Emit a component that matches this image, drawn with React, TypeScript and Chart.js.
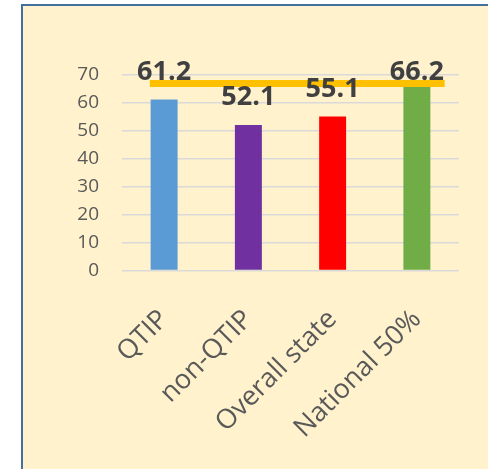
import { useEffect, useRef } from "react";
import { Chart, registerables } from "chart.js";

Chart.register(...registerables);

// Rates per group
const categories = ["QTIP", "non-QTIP", "Overall state", "National 50%"];
const rates = [61.2, 52.1, 55.1, 66.2];
const barColors = ["#5B9BD5", "#7030A0", "#FF0000", "#70AD47"];

// Horizontal benchmark bar drawn across the groups (x in category-index units)
const benchmarkLevel = 67;
const benchmarkFrom = -0.17;
const benchmarkTo = 3.33;

// Value axis
const yMin = 0;
const yMax = 70;
const yStep = 10;

const FONT = "'Open Sans', 'DejaVu Sans', sans-serif";

const valueLabels = {
  id: "valueLabels",
  afterDatasetsDraw(chart: any) {
    const meta = chart.getDatasetMeta(1);
    const ctx = chart.ctx;
    const top = chart.chartArea.top;
    ctx.save();
    ctx.font = `bold 27px ${FONT}`;
    ctx.fillStyle = "#404040";
    ctx.textAlign = "center";
    ctx.textBaseline = "alphabetic";
    meta.data.forEach((bar: any, i: number) => {
      const y = Math.max(bar.y - 20, top + 5);
      ctx.fillText(rates[i].toFixed(1), bar.x, y);
    });
    ctx.restore();
  },
};

export default function App() {
  const canvasRef = useRef<HTMLCanvasElement | null>(null);

  useEffect(() => {
    const canvas = canvasRef.current;
    if (!canvas) return;
    const chart = new Chart(canvas, {
      type: "bar",
      data: {
        labels: categories,
        datasets: [
          {
            type: "line",
            label: "Benchmark",
            data: [
              { x: benchmarkFrom, y: benchmarkLevel },
              { x: benchmarkTo, y: benchmarkLevel },
            ],
            xAxisID: "xLine",
            borderColor: "#FFC000",
            borderWidth: 7,
            borderCapStyle: "butt",
            pointRadius: 0,
            order: 0,
          } as any,
          {
            type: "bar",
            label: "Rate",
            data: rates,
            backgroundColor: barColors,
            barPercentage: 1,
            categoryPercentage: 0.32,
            grouped: false,
            order: 1,
          },
        ],
      },
      options: {
        responsive: false,
        animation: false,
        layout: { padding: { top: 75, right: 29, left: 0, bottom: 0 } },
        plugins: {
          legend: { display: false },
          tooltip: { enabled: false },
        },
        scales: {
          x: {
            type: "category",
            offset: true,
            grid: { display: false },
            border: { display: false },
            ticks: {
              color: "#595959",
              font: { family: FONT, size: 27 },
              minRotation: 45,
              maxRotation: 45,
              padding: 25,
            },
            afterFit(scale: any) {
              scale.height = 198.5;
            },
          },
          xLine: {
            type: "linear",
            display: false,
            offset: false,
            min: -0.5,
            max: 3.5,
          },
          y: {
            min: yMin,
            max: yMax,
            grid: { color: "#D9D9D9", lineWidth: 1.5, drawTicks: false },
            border: { display: false },
            ticks: {
              stepSize: yStep,
              color: "#595959",
              font: { family: FONT, size: 19 },
              padding: 23,
            },
            afterFit(scale: any) {
              scale.width = 122;
            },
          },
        },
      },
      plugins: [valueLabels],
    });
    return () => chart.destroy();
  }, []);

  return (
    <div
      style={{
        position: "fixed",
        left: 0,
        top: 0,
        width: 488,
        height: 469,
        background: "#FFFFFF",
        overflow: "hidden",
      }}
    >
      <div
        style={{
          position: "absolute",
          left: 21,
          top: 4,
          width: 480,
          height: 480,
          boxSizing: "border-box",
          border: "2px solid #41719C",
          background: "#FFF2CC",
        }}
      />
      <canvas
        ref={canvasRef}
        width={488}
        height={469}
        style={{ position: "absolute", left: 0, top: 0 }}
      />
    </div>
  );
}
